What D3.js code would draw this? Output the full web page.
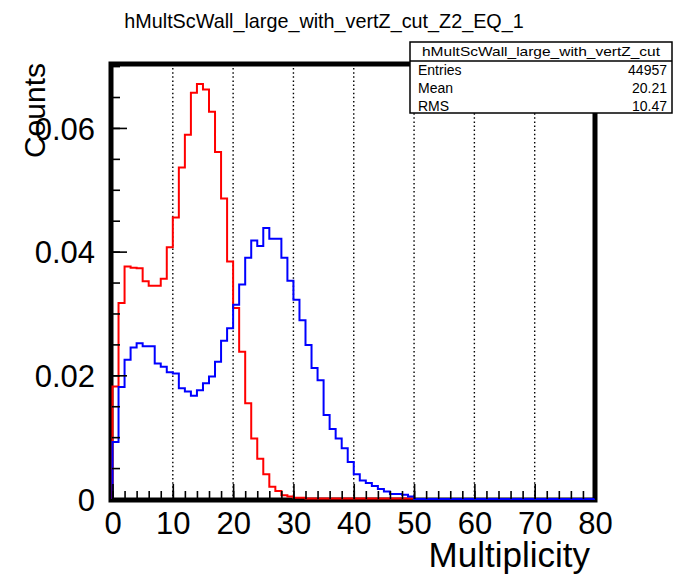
<!DOCTYPE html>
<html>
<head>
<meta charset="utf-8">
<script src="https://cdn.jsdelivr.net/npm/d3@7"></script>
<style>
  body { margin: 0; background: #fff; }
  text { font-family: "Liberation Sans", Arial, sans-serif; fill: #000; }
</style>
</head>
<body>
<div id="chart"></div>
<script>
var width = 679, height = 574;

// histogram: 80 bins of width 1 from 0 to 80 (normalised counts)
var binLow = 0, binHigh = 80;
var redCounts = [
  0.0182, 0.0317, 0.0376, 0.0374, 0.0373, 0.0352, 0.0345, 0.0345, 0.0356, 0.0407,
  0.0455, 0.0536, 0.0589, 0.0657, 0.0671, 0.0662, 0.0626, 0.0561, 0.0486, 0.0384,
  0.0309, 0.0238, 0.0155, 0.0098, 0.0065, 0.0040, 0.0020, 0.0013, 0.0006, 0.0004,
  0.0002, 0.0002, 0.0001, 0.0001, 0.0001, 0.0001, 0.0001, 0.0001, 0.0001, 0.0001,
  0.0001, 0.0001, 0.0001, 0.0001, 0.0001, 0.0001, 0.0001, 0.0001, 0.0001, 0.0001,
  0, 0, 0, 0, 0, 0, 0, 0, 0, 0,
  0, 0, 0, 0, 0, 0, 0, 0, 0, 0,
  0, 0, 0, 0, 0, 0, 0, 0, 0, 0
];
var blueCounts = [
  0.0092, 0.0181, 0.0225, 0.0245, 0.0252, 0.0247, 0.0247, 0.0219, 0.0214, 0.0205,
  0.0203, 0.0179, 0.0174, 0.0167, 0.0176, 0.0187, 0.0198, 0.0222, 0.0256, 0.0276,
  0.0314, 0.0347, 0.0390, 0.0418, 0.0409, 0.0438, 0.0421, 0.0421, 0.0390, 0.0353,
  0.0322, 0.0289, 0.0249, 0.0212, 0.0192, 0.0136, 0.0113, 0.0098, 0.0082, 0.0060,
  0.0040, 0.0030, 0.0026, 0.0021, 0.0016, 0.0012, 0.0008, 0.0008, 0.0007, 0.0004,
  0, 0, 0, 0, 0, 0, 0, 0, 0, 0,
  0, 0, 0, 0, 0, 0, 0, 0, 0, 0,
  0, 0, 0, 0, 0, 0, 0, 0, 0, 0
];

var xTickValues = [0, 10, 20, 30, 40, 50, 60, 70, 80];
var xGridValues = [10, 20, 30, 40, 50, 60, 70];
var yTickValues = [0, 0.02, 0.04, 0.06];
var yMax = 0.0705;

var titleText = "hMultScWall_large_with_vertZ_cut_Z2_EQ_1";
var statsTitle = "hMultScWall_large_with_vertZ_cut";
var statsLabels = ["Entries", "Mean", "RMS"];
var statsValues = ["44957", "20.21", "10.47"];

var frame = { left: 111, top: 64, right: 595, bottom: 500 };

var svg = d3.select("#chart").append("svg")
    .attr("width", width)
    .attr("height", height);

svg.append("rect").attr("width", width).attr("height", height).attr("fill", "#fff");

var x = d3.scaleLinear().domain([binLow, binHigh]).range([112.5, 595]);
var y = d3.scaleLinear().domain([0, yMax]).range([499, 63]);

// dotted vertical grid
svg.append("g").selectAll("line")
    .data(xGridValues)
    .enter().append("line")
    .attr("x1", function (d) { return x(d); })
    .attr("x2", function (d) { return x(d); })
    .attr("y1", frame.top)
    .attr("y2", frame.bottom)
    .attr("stroke", "#000")
    .attr("stroke-width", 1.4)
    .attr("stroke-dasharray", "1.5,2.6");

// thick frame
svg.append("rect")
    .attr("x", frame.left).attr("y", frame.top)
    .attr("width", frame.right - frame.left)
    .attr("height", frame.bottom - frame.top)
    .attr("fill", "none")
    .attr("stroke", "#000")
    .attr("stroke-width", 5);

// step histograms
function histPoints(counts) {
  var pts = [[binLow, 0]];
  counts.forEach(function (v, i) { pts.push([binLow + i, v]); });
  pts.push([binHigh, counts[counts.length - 1]]);
  return pts;
}
var step = d3.line()
    .x(function (d) { return x(d[0]); })
    .y(function (d) { return y(d[1]); })
    .curve(d3.curveStepAfter);

svg.append("path").attr("d", step(histPoints(redCounts)))
    .attr("fill", "none").attr("stroke", "#ff0000").attr("stroke-width", 2);
svg.append("path").attr("d", step(histPoints(blueCounts)))
    .attr("fill", "none").attr("stroke", "#0000ff").attr("stroke-width", 2);

// x axis: minor ticks every 2, major every 10
var xMinor = svg.append("g").attr("transform", "translate(0,499)")
    .call(d3.axisBottom(x).tickValues(d3.range(0, 81, 2)).tickSize(-8).tickFormat(""));
var xMajor = svg.append("g").attr("transform", "translate(0,499)")
    .call(d3.axisBottom(x).tickValues(xTickValues).tickSize(-15).tickPadding(13).tickFormat(d3.format("d")));

// y axis: minor ticks every 0.005, major every 0.02
var yMinor = svg.append("g").attr("transform", "translate(112,0)")
    .call(d3.axisLeft(y).tickValues(d3.range(0, 0.0701, 0.005)).tickSize(-8).tickFormat(""));
var yMajor = svg.append("g").attr("transform", "translate(112,0)")
    .call(d3.axisLeft(y).tickValues(yTickValues).tickSize(-15).tickPadding(17)
      .tickFormat(function (d) { return d === 0 ? "0" : d3.format(".2f")(d); }));

[xMinor, xMajor, yMinor, yMajor].forEach(function (g) {
  g.select(".domain").remove();
  g.selectAll(".tick line").attr("stroke", "#000").attr("stroke-width", 1.6);
});
xMajor.selectAll(".tick text").attr("font-size", 31).attr("font-family", "Liberation Sans, Arial, sans-serif");
yMajor.selectAll(".tick text").attr("font-size", 31).attr("font-family", "Liberation Sans, Arial, sans-serif")
    .attr("dy", "0.36em");

// axis titles
svg.append("text")
    .attr("x", 590).attr("y", 567)
    .attr("text-anchor", "end")
    .attr("font-size", 35)
    .text("Multiplicity");

svg.append("text")
    .attr("transform", "translate(45,63) rotate(-90)")
    .attr("text-anchor", "end")
    .attr("font-size", 30)
    .text("Counts");

// title
svg.append("text")
    .attr("x", 324).attr("y", 28)
    .attr("text-anchor", "middle")
    .attr("font-size", 19.8)
    .text(titleText);

// stats box
var stats = svg.append("g");
stats.append("rect")
    .attr("x", 410).attr("y", 42)
    .attr("width", 262).attr("height", 71)
    .attr("fill", "#fff").attr("stroke", "#000").attr("stroke-width", 1.5);
stats.append("line")
    .attr("x1", 410).attr("x2", 672).attr("y1", 61).attr("y2", 61)
    .attr("stroke", "#000").attr("stroke-width", 1.5);
stats.append("text")
    .attr("x", 541).attr("y", 56)
    .attr("text-anchor", "middle")
    .attr("font-size", 13)
    .attr("textLength", 238)
    .attr("lengthAdjust", "spacingAndGlyphs")
    .text(statsTitle);
stats.selectAll("text.lab")
    .data(statsLabels)
    .enter().append("text").attr("class", "lab")
    .attr("x", 418)
    .attr("y", function (d, i) { return 75 + i * 18; })
    .attr("font-size", 14)
    .text(function (d) { return d; });
stats.selectAll("text.val")
    .data(statsValues)
    .enter().append("text").attr("class", "val")
    .attr("x", 667)
    .attr("y", function (d, i) { return 75 + i * 18; })
    .attr("text-anchor", "end")
    .attr("font-size", 14)
    .text(function (d) { return d; });
</script>
</body>
</html>
